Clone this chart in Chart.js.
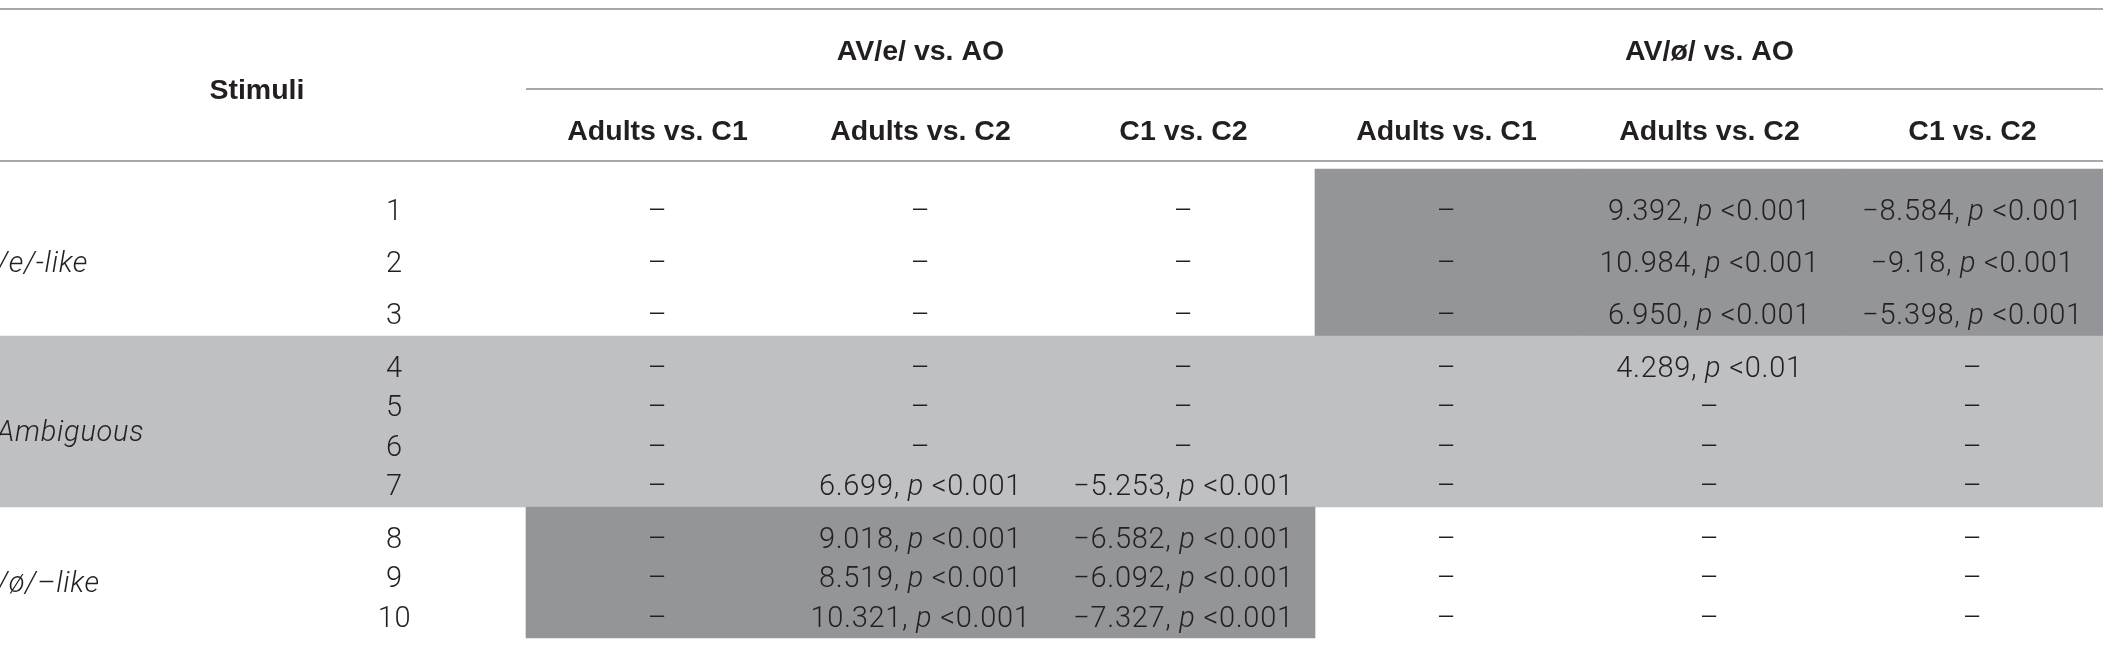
<!DOCTYPE html>
<html>
<head>
<meta charset="utf-8">
<script src="https://cdn.jsdelivr.net/npm/chart.js@4.4.1/dist/chart.umd.min.js"></script>
<style>
  html, body { margin: 0; padding: 0; background: #ffffff; overflow: hidden; }
  #wrap { width: 2103px; height: 657px; position: relative; }
</style>
</head>
<body>
<div id="wrap"><canvas id="c" width="2103" height="657"></canvas></div>
<script>
// ---------------- DATA ----------------
const stimuliHeader = 'Stimuli';
const conditionLabels = ['AV/e/ vs. AO', 'AV/\u00f8/ vs. AO'];
const comparisonLabels = ['Adults vs. C1', 'Adults vs. C2', 'C1 vs. C2'];
const groupLabels = ['/e/-like', 'Ambiguous', '/\u00f8/\u2013like'];
const groupSizes = [3, 4, 3];
const stimuli = ['1', '2', '3', '4', '5', '6', '7', '8', '9', '10'];

// t statistics per stimulus (null = not significant, shown as a dash)
const avE_adultsC1_t = [null, null, null, null, null, null, null, null, null, null];
const avE_adultsC2_t = [null, null, null, null, null, null, '6.699', '9.018', '8.519', '10.321'];
const avE_c1c2_t     = [null, null, null, null, null, null, '\u22125.253', '\u22126.582', '\u22126.092', '\u22127.327'];
const avO_adultsC1_t = [null, null, null, null, null, null, null, null, null, null];
const avO_adultsC2_t = ['9.392', '10.984', '6.950', '4.289', null, null, null, null, null, null];
const avO_c1c2_t     = ['\u22128.584', '\u22129.18', '\u22125.398', null, null, null, null, null, null, null];

// p thresholds per stimulus
const avE_adultsC1_p = [null, null, null, null, null, null, null, null, null, null];
const avE_adultsC2_p = [null, null, null, null, null, null, '0.001', '0.001', '0.001', '0.001'];
const avE_c1c2_p     = [null, null, null, null, null, null, '0.001', '0.001', '0.001', '0.001'];
const avO_adultsC1_p = [null, null, null, null, null, null, null, null, null, null];
const avO_adultsC2_p = ['0.001', '0.001', '0.001', '0.01', null, null, null, null, null, null];
const avO_c1c2_p     = ['0.001', '0.001', '0.001', null, null, null, null, null, null, null];

// highlighting per stimulus group
const rowShade  = [null, 'light', null];     // whole-row shading
const avE_shade = [null, null, 'dark'];      // AV/e/ block shading
const avO_shade = ['dark', null, null];      // AV/ø/ block shading

// ---------------- STYLE / LAYOUT ----------------
const STYLE = {
  dark: '#939598',
  light: '#bfc0c2',
  rule: '#a7a9ac',
  text: '#231f20',
  headFont: '"Liberation Sans", Arial, sans-serif',
  bodyFont: 'Roboto, "Liberation Sans", sans-serif',
  headSize: 28.5,
  bodySize: 29,
  bodySpacing: '0.7px'
};
const LAYOUT = {
  width: 2103, height: 657, colUnit: 263,
  rules: [{ y: 9, from: 0 }, { y: 89, from: 2 }, { y: 161, from: 0 }],
  ruleWidth: 2,
  condBaseline: 60, compBaseline: 140, stimBaseline: 99,
  stimSpan: [-0.046, 2],
  labelX: -0.012,
  bodyGap: 8,
  groups: [
    { first: 51, pitch: 52,    pad: 12 },
    { first: 41, pitch: 39.33, pad: 12 },
    { first: 41, pitch: 39.5,  pad: 11 }
  ],
  labelDy: 19.5
};

// ---------------- DERIVED TABLE GEOMETRY ----------------
const xMax = LAYOUT.width / LAYOUT.colUnit;
const rowBase = [];
const groupSpan = [];
(function () {
  let top = LAYOUT.rules[2].y + LAYOUT.bodyGap;
  groupSizes.forEach((n, g) => {
    const L = LAYOUT.groups[g];
    let y = top + L.first;
    for (let i = 0; i < n; i++) { rowBase.push(y); if (i < n - 1) y += L.pitch; }
    const bottom = y + L.pad;
    groupSpan.push([top, bottom]);
    top = bottom;
  });
})();

const valueCols = [
  { t: avE_adultsC1_t, p: avE_adultsC1_p },
  { t: avE_adultsC2_t, p: avE_adultsC2_p },
  { t: avE_c1c2_t,     p: avE_c1c2_p },
  { t: avO_adultsC1_t, p: avO_adultsC1_p },
  { t: avO_adultsC2_t, p: avO_adultsC2_p },
  { t: avO_c1c2_t,     p: avO_c1c2_p }
];

// shading cells: one bar per column per group
const shadeData = [];
const shadeColors = [];
groupSizes.forEach((n, g) => {
  for (let c = 0; c < 8; c++) {
    let s = rowShade[g];
    if (c >= 2 && c <= 4 && avE_shade[g]) s = avE_shade[g];
    if (c >= 5 && avO_shade[g]) s = avO_shade[g];
    if (!s) continue;
    shadeData.push({ x: c + 0.5, y: [groupSpan[g][0], groupSpan[g][1]] });
    shadeColors.push(STYLE[s]);
  }
});

const bodyRun = (txt) => ({ text: txt, font: '300 ' + STYLE.bodySize + 'px ' + STYLE.bodyFont, sp: STYLE.bodySpacing });
const italRun = (txt) => ({ text: txt, font: 'italic 300 ' + STYLE.bodySize + 'px ' + STYLE.bodyFont, sp: STYLE.bodySpacing });
const headRun = (txt) => ({ text: txt, font: 'bold ' + STYLE.headSize + 'px ' + STYLE.headFont, sp: '0px' });

function cellRuns(t, p) {
  if (t === null) return [bodyRun('\u2013')];
  return [bodyRun(t + ', '), italRun('p'), bodyRun(' <' + p)];
}

const datasets = [];
datasets.push({
  type: 'bar', label: 'shading', data: shadeData,
  backgroundColor: shadeColors, borderWidth: 0,
  barPercentage: 1, categoryPercentage: 1, order: 10
});
LAYOUT.rules.forEach((r, i) => {
  datasets.push({
    type: 'line', label: 'rule' + i,
    data: [{ x: r.from, y: r.y }, { x: xMax, y: r.y }],
    borderColor: STYLE.rule, borderWidth: LAYOUT.ruleWidth,
    pointRadius: 0, order: 5
  });
});
// headers
const headPts = [], headTxt = [];
headPts.push({ x: (LAYOUT.stimSpan[0] + LAYOUT.stimSpan[1]) / 2, y: LAYOUT.stimBaseline });
headTxt.push({ runs: [headRun(stimuliHeader)], align: 'center' });
conditionLabels.forEach((lab, k) => {
  headPts.push({ x: 2 + k * 3 + 1.5, y: LAYOUT.condBaseline });
  headTxt.push({ runs: [headRun(lab)], align: 'center' });
  comparisonLabels.forEach((cl, j) => {
    headPts.push({ x: 2 + k * 3 + j + 0.5, y: LAYOUT.compBaseline });
    headTxt.push({ runs: [headRun(cl)], align: 'center' });
  });
});
datasets.push({ type: 'scatter', label: 'headers', data: headPts, cells: headTxt, pointRadius: 0, order: 1 });
// group labels
const labelPts = groupSpan.map(s => ({ x: LAYOUT.labelX, y: (s[0] + s[1]) / 2 + LAYOUT.labelDy }));
datasets.push({ type: 'scatter', label: 'groups', data: labelPts,
  cells: groupLabels.map(g => ({ runs: [italRun(g)], align: 'left' })), pointRadius: 0, order: 1 });
// stimulus numbers
datasets.push({ type: 'scatter', label: 'stimuli', data: stimuli.map((s, i) => ({ x: 1.5, y: rowBase[i] })),
  cells: stimuli.map(s => ({ runs: [bodyRun(s)], align: 'center' })), pointRadius: 0, order: 1 });
// value columns
valueCols.forEach((col, k) => {
  datasets.push({
    type: 'scatter', label: 'col' + k,
    data: col.t.map((t, i) => ({ x: 2.5 + k, y: rowBase[i] })),
    cells: col.t.map((t, i) => ({ runs: cellRuns(t, col.p[i]), align: 'center' })),
    pointRadius: 0, order: 1
  });
});

const tableText = {
  id: 'tableText',
  afterDatasetsDraw(chart) {
    const ctx = chart.ctx;
    ctx.save();
    ctx.fillStyle = STYLE.text;
    ctx.textBaseline = 'alphabetic';
    ctx.textAlign = 'left';
    chart.data.datasets.forEach((ds, di) => {
      if (!ds.cells) return;
      const meta = chart.getDatasetMeta(di);
      meta.data.forEach((el, i) => {
        const cell = ds.cells[i];
        let total = 0;
        const widths = cell.runs.map(r => {
          ctx.font = r.font;
          if ('letterSpacing' in ctx) ctx.letterSpacing = r.sp;
          const w = ctx.measureText(r.text).width; total += w; return w;
        });
        let x = cell.align === 'left' ? el.x : el.x - total / 2;
        cell.runs.forEach((r, j) => {
          ctx.font = r.font;
          if ('letterSpacing' in ctx) ctx.letterSpacing = r.sp;
          ctx.fillText(r.text, x, el.y);
          x += widths[j];
        });
      });
    });
    ctx.restore();
  }
};

new Chart(document.getElementById('c'), {
  type: 'bar',
  data: { datasets },
  options: {
    responsive: false,
    devicePixelRatio: 1,
    animation: false,
    layout: { padding: 0 },
    plugins: { legend: { display: false }, tooltip: { enabled: false } },
    events: [],
    scales: {
      x: {
        type: 'linear', min: 0, max: xMax, offset: false, display: false,
        afterBuildTicks: (s) => { s.ticks = [0, 1, 2, 3, 4, 5, 6, 7].map(v => ({ value: v })); }
      },
      y: { type: 'linear', min: 0, max: LAYOUT.height, reverse: true, display: false }
    }
  },
  plugins: [tableText]
});
</script>
</body>
</html>
